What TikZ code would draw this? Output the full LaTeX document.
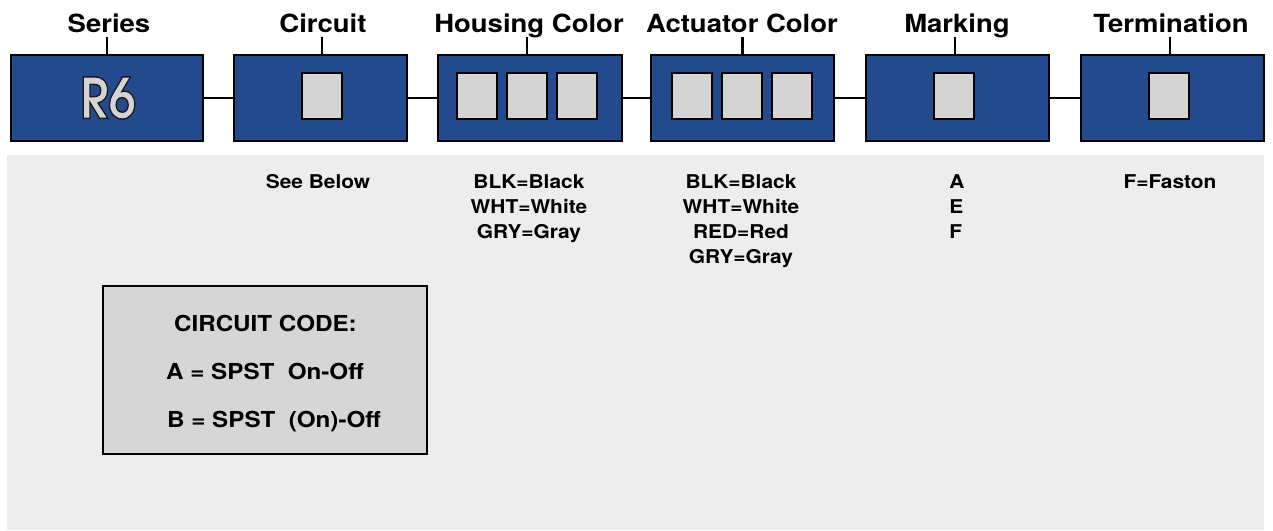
\documentclass[tikz,border=0pt]{standalone}
\usepackage{fontspec}
\setmainfont{TeX Gyre Heros}[FakeStretch=1.1]
\newfontfamily\rsixfont{TeX Gyre Adventor}
\definecolor{boxblue}{RGB}{35,74,140}
\definecolor{sqgray}{RGB}{212,212,212}
\definecolor{bggray}{RGB}{237,237,237}
\definecolor{codegray}{RGB}{214,214,214}
\tikzset{
  cell/.style={draw=black, line width=2.5pt, fill=boxblue, minimum height=86pt, inner sep=0pt},
  sq/.style={draw=black, line width=1.2pt, fill=sqgray, minimum width=40pt, minimum height=46pt, inner sep=0pt},
  hdr/.style={font=\fontsize{25}{30}\selectfont\bfseries, anchor=base, inner sep=0pt},
  opt/.style={font=\fontsize{19}{25}\selectfont\bfseries, anchor=north, align=center, inner sep=0pt},
  optl/.style={font=\fontsize{19}{25}\selectfont\bfseries, anchor=north, align=left, inner sep=0pt},
  code/.style={font=\fontsize{22}{26}\selectfont\bfseries, anchor=base, inner sep=0pt},
  conn/.style={draw=black, line width=2pt},
  tick/.style={draw=black, line width=2.5pt},
  codebox/.style={draw=black, line width=2pt, fill=codegray, inner sep=0pt}
}
\begin{document}
\begin{tikzpicture}[x=1pt,y=-1pt]
\useasboundingbox (0,0) rectangle (1273,530);
\fill[bggray] (7,155) rectangle (1264,530);
% boxes
\node[cell, minimum width=192pt] (b1) at (107,98) {};
\node[cell, minimum width=173pt] (b2) at (320.5,98) {};
\node[cell, minimum width=184pt] (b3) at (530,98) {};
\node[cell, minimum width=183pt] (b4) at (742.5,98) {};
\node[cell, minimum width=183pt] (b5) at (957.5,98) {};
\node[cell, minimum width=183pt] (b6) at (1172.5,98) {};
% connectors
\draw[conn] (b1.east) -- (b2.west);
\draw[conn] (b2.east) -- (b3.west);
\draw[conn] (b3.east) -- (b4.west);
\draw[conn] (b4.east) -- (b5.west);
\draw[conn] (b5.east) -- (b6.west);
% squares
\node[sq] (s2) at (322,96) {};
\node[sq] (s3a) at (477,96) {};
\node[sq] (s3b) at (527,96) {};
\node[sq] (s3c) at (577,96) {};
\node[sq] (s4a) at (692,96) {};
\node[sq] (s4b) at (742,96) {};
\node[sq] (s4c) at (792,96) {};
\node[sq] (s5) at (954,96) {};
\node[sq] (s6) at (1169,96) {};
% R6 (filled light grey, stroked dark)
\node[text=sqgray, font=\rsixfont\bfseries\fontsize{56}{60}\selectfont, xscale=0.88, inner sep=0pt] (r6) at (108,98)
  {\special{pdf:literal direct 2 Tr 1.4 w 0.1 0.1 0.1 RG}R6\special{pdf:literal direct 0 Tr}};
% header labels
\node[hdr] (l1) at (109,32) {Series};
\node[hdr] (l2) at (323,32) {Circuit};
\node[hdr] (l3) at (529,32) {Housing Color};
\node[hdr] (l4) at (742,32) {Actuator Color};
\node[hdr] (l5) at (957,32) {Marking};
\node[hdr] (l6) at (1171,32) {Termination};
% ticks
\draw[tick] (b1.north) -- ++(0,-17);
\draw[tick] ([xshift=1.5pt]b2.north) -- ++(0,-17);
\draw[tick] ([xshift=-3pt]b3.north) -- ++(0,-17);
\draw[tick] (b4.north) -- ++(0,-17);
\draw[tick] ([xshift=-2.5pt]b5.north) -- ++(0,-17);
\draw[tick] ([xshift=-2.5pt]b6.north) -- ++(0,-17);
% option texts
\node[opt] (t2) at (318,174.5) {See Below};
\node[opt] (t3) at (529,174.5) {BLK=Black\\WHT=White\\GRY=Gray};
\node[opt] (t4) at (741,174.5) {BLK=Black\\WHT=White\\RED=Red\\GRY=Gray};
\node[optl] (t5) at (957,174.5) {A\\E\\F};
\node[opt] (t6) at (1170,174.5) {F=Faston};
% circuit code box
\node[codebox, minimum width=324pt, minimum height=168pt] (cb) at (265,370) {};
\node[code] (c1) at (265.5,331) {CIRCUIT CODE:};
\node[code, anchor=base west] (c2) at (166,379) {A = SPST \ On-Off};
\node[code, anchor=base west] (c3) at (167,427) {B = SPST \ (On)-Off};
\end{tikzpicture}
\end{document}
